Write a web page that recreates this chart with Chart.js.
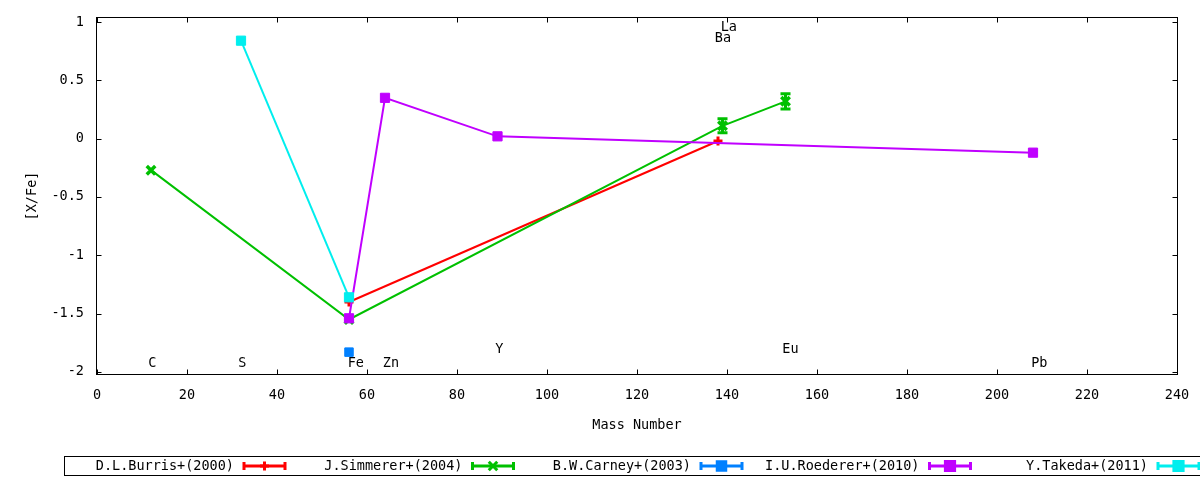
<!DOCTYPE html>
<html>
<head>
<meta charset="utf-8">
<script src="https://cdn.jsdelivr.net/npm/chart.js@4/dist/chart.umd.min.js"></script>
<style>
  html, body { margin: 0; padding: 0; background: #fff; }
</style>
</head>
<body>
<canvas id="myChart" width="1200" height="480"></canvas>
<script>
// series (x = mass number, y = [X/Fe])
const seriesNames = ['D.L.Burris+(2000)', 'J.Simmerer+(2004)', 'B.W.Carney+(2003)', 'I.U.Roederer+(2010)', 'Y.Takeda+(2011)']

const burrisX = [56, 138]
const burrisY = [-1.40, -0.02]
const burrisErr = [0, 0]

const simmererX = [12, 56, 139, 153]
const simmererY = [-0.27, -1.55, 0.11, 0.32]
const simmererErr = [0, 0, 0.06, 0.065]

const carneyX = [56]
const carneyY = [-1.83]
const carneyErr = [0]

const roedererX = [56, 64, 89, 208]
const roedererY = [-1.54, 0.35, 0.02, -0.12]
const roedererErr = [0, 0, 0, 0]

const takedaX = [32, 56]
const takedaY = [0.84, -1.36]
const takedaErr = [0, 0]

// element labels drawn in the plot
const elemNames = ['C', 'S', 'Fe', 'Zn', 'Y', 'Eu', 'Pb', 'Ba', 'La']
const elemX = [11.4, 31.4, 55.7, 63.5, 88.5, 152.3, 207.6, 137.3, 138.6]
const elemY = [-1.93, -1.93, -1.93, -1.93, -1.81, -1.81, -1.93, 0.86, 0.95]

// ticks
const xTicks = [0, 20, 40, 60, 80, 100, 120, 140, 160, 180, 200, 220, 240]
const yTicks = [-2, -1.5, -1, -0.5, 0, 0.5, 1]

const fontFam = "'DejaVu Sans Mono', monospace"
const font = { family: fontFam, size: 13.5 }

const toPoints = (xs, ys) => xs.map((x, i) => ({ x: x, y: ys[i] }))

function serie(i, xs, ys, err, color, style, radius, pbw, order) {
    return {
        label: seriesNames[i],
        data: toPoints(xs, ys),
        err: err,
        showLine: true,
        borderColor: color,
        backgroundColor: color,
        borderWidth: 2,
        pointStyle: style,
        pointRadius: radius,
        pointBorderWidth: pbw,
        pointBorderColor: color,
        pointBackgroundColor: color,
        order: order
    }
}

const gnuplotLook = {
    id: 'gnuplotLook',
    afterDatasetsDraw(chart) {
        const { ctx, scales: { x, y } } = chart
        ctx.save()
        chart.data.datasets.forEach(ds => {
            ds.err.forEach((e, j) => {
                if (!e) return
                const px = x.getPixelForValue(ds.data[j].x)
                const top = y.getPixelForValue(ds.data[j].y + e)
                const bot = y.getPixelForValue(ds.data[j].y - e)
                ctx.strokeStyle = ds.borderColor
                ctx.lineWidth = 3
                ctx.beginPath()
                ctx.moveTo(px, top); ctx.lineTo(px, bot)
                ctx.moveTo(px - 5, top); ctx.lineTo(px + 5, top)
                ctx.moveTo(px - 5, bot); ctx.lineTo(px + 5, bot)
                ctx.stroke()
            })
        })
        ctx.restore()
    },
    afterDraw(chart) {
        const { ctx, chartArea: a, scales: { x, y } } = chart
        ctx.save()
        ctx.strokeStyle = '#000'
        ctx.lineWidth = 1
        const L = Math.round(a.left) - 0.5, R = Math.round(a.right) + 0.5
        const T = Math.round(a.top) + 0.5, B = Math.round(a.bottom) - 0.5
        ctx.strokeRect(L, T, R - L, B - T)

        // inward ticks on all four sides
        const tl = 5
        ctx.beginPath()
        xTicks.forEach(v => {
            const px = Math.round(x.getPixelForValue(v)) + 0.5
            ctx.moveTo(px, B); ctx.lineTo(px, B - tl)
            ctx.moveTo(px, T); ctx.lineTo(px, T + tl)
        })
        yTicks.forEach(v => {
            const py = Math.round(y.getPixelForValue(v)) + 0.5
            ctx.moveTo(L, py); ctx.lineTo(L + tl, py)
            ctx.moveTo(R, py); ctx.lineTo(R - tl, py)
        })
        ctx.stroke()

        // element labels
        ctx.fillStyle = '#000'
        ctx.font = '13.5px ' + fontFam
        ctx.textAlign = 'left'
        ctx.textBaseline = 'middle'
        elemNames.forEach((n, i) => {
            ctx.fillText(n, x.getPixelForValue(elemX[i]), y.getPixelForValue(elemY[i]))
        })

        // key, gnuplot style: text, then sample line with error caps and point
        const legTop = 456.5, legH = 19, legLeft = 64.5
        const colW = 228.5, textEnd = 234, sampleL = 243, sampleW = 43
        const midY = legTop + legH / 2
        ctx.strokeRect(legLeft, legTop, chart.width, legH)
        chart.data.datasets.forEach((ds, i) => {
            const off = i * colW
            ctx.fillStyle = '#000'
            ctx.textAlign = 'right'
            ctx.fillText(ds.label, textEnd + off, midY + 0.5)
            const x0 = sampleL + off, x1 = x0 + sampleW
            ctx.strokeStyle = ds.borderColor
            ctx.fillStyle = ds.borderColor
            ctx.lineWidth = 3
            ctx.beginPath()
            ctx.moveTo(x0, midY); ctx.lineTo(x1, midY)
            ctx.moveTo(x0 + 1, midY - 4); ctx.lineTo(x0 + 1, midY + 4)
            ctx.moveTo(x1 - 1, midY - 4); ctx.lineTo(x1 - 1, midY + 4)
            ctx.stroke()
            Chart.helpers.drawPoint(ctx, {
                pointStyle: ds.pointStyle,
                radius: ds.pointRadius,
                borderWidth: ds.pointBorderWidth,
                rotation: 0
            }, (x0 + x1) / 2, midY)
        })
        ctx.restore()
    }
}

const ctx = document.getElementById('myChart').getContext('2d')

const myChart = new Chart(ctx, {
    type: 'scatter',
    data: {
        datasets: [
            serie(0, burrisX, burrisY, burrisErr, '#ff0000', 'cross', 4.5, 3, 4),
            serie(1, simmererX, simmererY, simmererErr, '#00c000', 'crossRot', 6, 3.5, 3),
            serie(2, carneyX, carneyY, carneyErr, '#0080ff', 'rect', 6, 1, 2),
            serie(3, roedererX, roedererY, roedererErr, '#c000ff', 'rect', 6.5, 1, 1),
            serie(4, takedaX, takedaY, takedaErr, '#00eeee', 'rect', 6.5, 1, 0)
        ]
    },
    options: {
        responsive: false,
        animation: false,
        layout: { padding: { top: 17, right: 23, left: 0, bottom: 0 } },
        plugins: {
            legend: { display: false },
            tooltip: { enabled: false }
        },
        scales: {
            x: {
                type: 'linear',
                min: 0,
                max: 240,
                afterBuildTicks: s => { s.ticks = xTicks.map(v => ({ value: v })) },
                afterFit: s => { s.height = 105; s.paddingLeft = 0; s.paddingRight = 0 },
                grid: { display: false },
                border: { display: false },
                ticks: { padding: 4, color: '#000', font: font, maxRotation: 0, callback: v => String(v) },
                title: { display: true, text: 'Mass Number', color: '#000', font: font, padding: { top: 0, bottom: 46 } }
            },
            y: {
                type: 'linear',
                min: -2.026,
                max: 1.043,
                afterBuildTicks: s => { s.ticks = yTicks.map(v => ({ value: v })) },
                afterFit: s => { s.width = 97; s.paddingTop = 0; s.paddingBottom = 0 },
                grid: { display: false },
                border: { display: false },
                ticks: { padding: 5, color: '#000', font: font, callback: v => String(v) },
                title: { display: true, text: '[X/Fe]', color: '#000', font: font, padding: { top: 24, bottom: 0 } }
            }
        }
    },
    plugins: [gnuplotLook]
})
</script>
</body>
</html>
